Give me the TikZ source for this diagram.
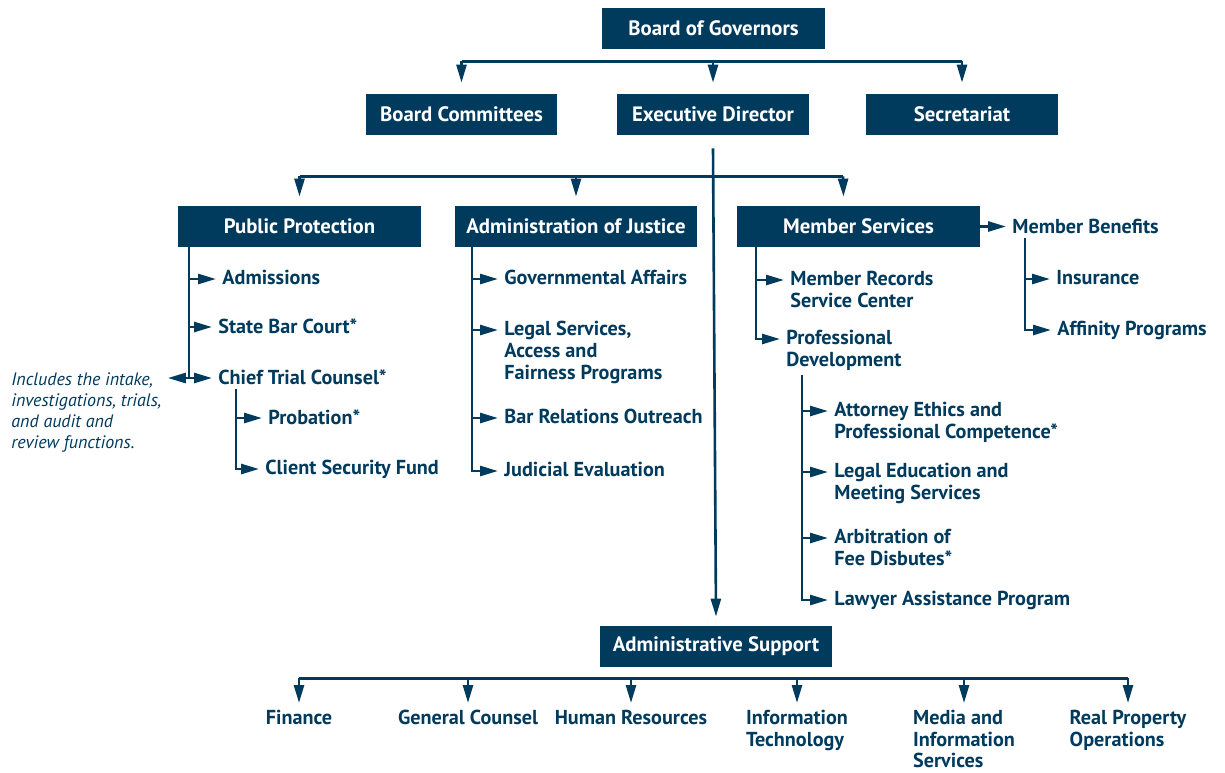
\documentclass[tikz,border=0pt]{standalone}
\usepackage{fontspec}
\setmainfont{PT Sans}
\usetikzlibrary{arrows.meta}
\definecolor{sbnavy}{HTML}{003A5D}

\tikzset{
    unit/.style={fill=sbnavy, text=white, inner sep=0pt, minimum height=20.5pt,
        font=\bfseries\fontsize{10.4}{12}\selectfont},
    item/.style={anchor=north west, xshift=-3pt, yshift=6.5pt, inner xsep=3pt,
        inner ysep=2pt, align=left, text=sbnavy,
        font=\bfseries\fontsize{10.1}{10.8}\selectfont},
    dept/.style={anchor=north, inner xsep=3pt, inner ysep=0pt, align=left,
        text=sbnavy, font=\bfseries\fontsize{10.1}{10.7}\selectfont},
    remark/.style={anchor=north west, xshift=-3pt, yshift=5pt, inner xsep=3pt,
        inner ysep=2pt, align=left, text=sbnavy,
        font=\itshape\fontsize{9}{10.5}\selectfont},
    link/.style={draw=sbnavy, line width=1.3pt},
    arr/.style={link, -{Triangle[length=9pt, width=5pt]}}
}

\begin{document}
\begin{tikzpicture}[x=0.5pt, y=-0.5pt]
    \useasboundingbox (0,0) rectangle (1225,772);

    % Boxes
    \node[unit, minimum width=111.5pt] (gov) at (713.5,28.5) {Board of Governors};
    \node[unit, minimum width=95.5pt] (bc) at (461.5,114.5) {Board Committees};
    \node[unit, minimum width=96pt] (ed) at (713,114.5) {Executive Director};
    \node[unit, minimum width=96pt] (sec) at (962,114.5) {Secretariat};
    \node[unit, minimum width=121.5pt] (pp) at (299.5,226.5) {Public Protection};
    \node[unit, minimum width=121pt] (aoj) at (576,226.5) {Administration of Justice};
    \node[unit, minimum width=121.5pt] (ms) at (858.5,226.5) {Member Services};
    \node[unit, minimum width=116pt] (as) at (716,646.5) {Administrative Support};

    % Board of Governors
    \coordinate (govbus) at ([yshift=-6pt]gov.south);
    \draw[link] (govbus -| bc) -- (govbus -| sec);
    \foreach \n in {bc, ed, sec}
        \draw[arr] (govbus -| \n) -- ([yshift=5.5pt]\n.north);

    % Executive Director
    \draw[arr] ([yshift=-6.5pt]ed.south) -- ([yshift=4.5pt]as.north);
    \coordinate (edbus) at ([yshift=-20.5pt]ed.south);
    \draw[link] (edbus -| pp) -- (edbus -| 843,0);
    \draw[arr] (edbus -| pp) -- ([yshift=4.5pt]pp.north);
    \draw[arr] (edbus -| aoj) -- ([yshift=4.5pt]aoj.north);
    \draw[arr] (edbus -| 843,0) -- ([xshift=-7.5pt, yshift=4.5pt]ms.north);

    % Public Protection
    \node[item] (adm) at (222,279) {Admissions};
    \node[item] (sbc) at (218,327) {State Bar Court*};
    \node[item] (ctc) at (218,378) {Chief Trial Counsel*};
    \node[remark] (inc) at (11,378) {Includes the intake,\\investigations, trials,\\and audit and\\review functions.};
    \draw[arr] (pp.south -| 189,0) |- (ctc.west |- 0,378);
    \foreach \n/\y in {adm/279, sbc/327}
        \draw[arr] (189,\y) -- (\n.west |- 0,\y);
    \draw[arr] (189,378) -- (inc.east |- 0,378);

    \node[item] (prob) at (268,418) {Probation*};
    \node[item] (csf) at (265,469) {Client Security Fund};
    \draw[arr] (ctc.south -| 236,0) |- (csf.west |- 0,469);
    \draw[arr] (236,418) -- (prob.west |- 0,418);

    % Administration of Justice
    \node[item] (ga) at (504,279) {Governmental Affairs};
    \node[item] (ls) at (504,330) {Legal Services,\\Access and\\Fairness Programs};
    \node[item] (bro) at (504,418) {Bar Relations Outreach};
    \node[item] (je) at (504,471) {Judicial Evaluation};
    \draw[arr] (aoj.south -| 472,0) |- (je.west |- 0,471);
    \foreach \n/\y in {ga/279, ls/330, bro/418}
        \draw[arr] (472,\y) -- (\n.west |- 0,\y);

    % Member Services
    \node[item] (mrsc) at (790,280) {Member Records\\Service Center};
    \node[item] (pd) at (786,339) {Professional\\Development};
    \draw[arr] (ms.south -| 756,0) |- (pd.west |- 0,339);
    \draw[arr] (756,280) -- (mrsc.west |- 0,280);

    \node[item] (mb) at (1012,228) {Member Benefits};
    \draw[arr] (ms.east) -- (mb.west |- ms.east);
    \node[item] (ins) at (1056,279) {Insurance};
    \node[item] (aff) at (1057,330) {Affinity Programs};
    \draw[arr] (mb.south -| 1025,0) |- (aff.west |- 0,330);
    \draw[arr] (1025,279) -- (ins.west |- 0,279);

    \node[item] (aec) at (834,411) {Attorney Ethics and\\Professional Competence*};
    \node[item] (lems) at (834,472) {Legal Education and\\Meeting Services};
    \node[item] (afd) at (834,538) {Arbitration of\\Fee Disbutes*};
    \node[item] (lap) at (834,600) {Lawyer Assistance Program};
    \draw[arr] (pd.south -| 802,0) |- (lap.west |- 0,600);
    \foreach \n/\y in {aec/411, lems/472, afd/538}
        \draw[arr] (802,\y) -- (\n.west |- 0,\y);

    % Administrative Support
    \node[dept] (fin) at (299,710) {Finance};
    \node[dept] (gc) at (468,710) {General Counsel};
    \node[dept] (hr) at (631,710) {Human Resources};
    \node[dept] (it) at (797,710) {Information\\Technology};
    \node[dept] (mis) at (964,710) {Media and\\Information\\Services};
    \node[dept] (rpo) at (1128,710) {Real Property\\Operations};
    \coordinate (asbus) at ([yshift=-5.5pt]as.south);
    \draw[link] (asbus -| fin) -- (asbus -| rpo);
    \foreach \n in {fin, gc, hr, it, mis, rpo}
        \draw[arr] (asbus -| \n) -- ([yshift=3.5pt]\n.north);
\end{tikzpicture}
\end{document}
